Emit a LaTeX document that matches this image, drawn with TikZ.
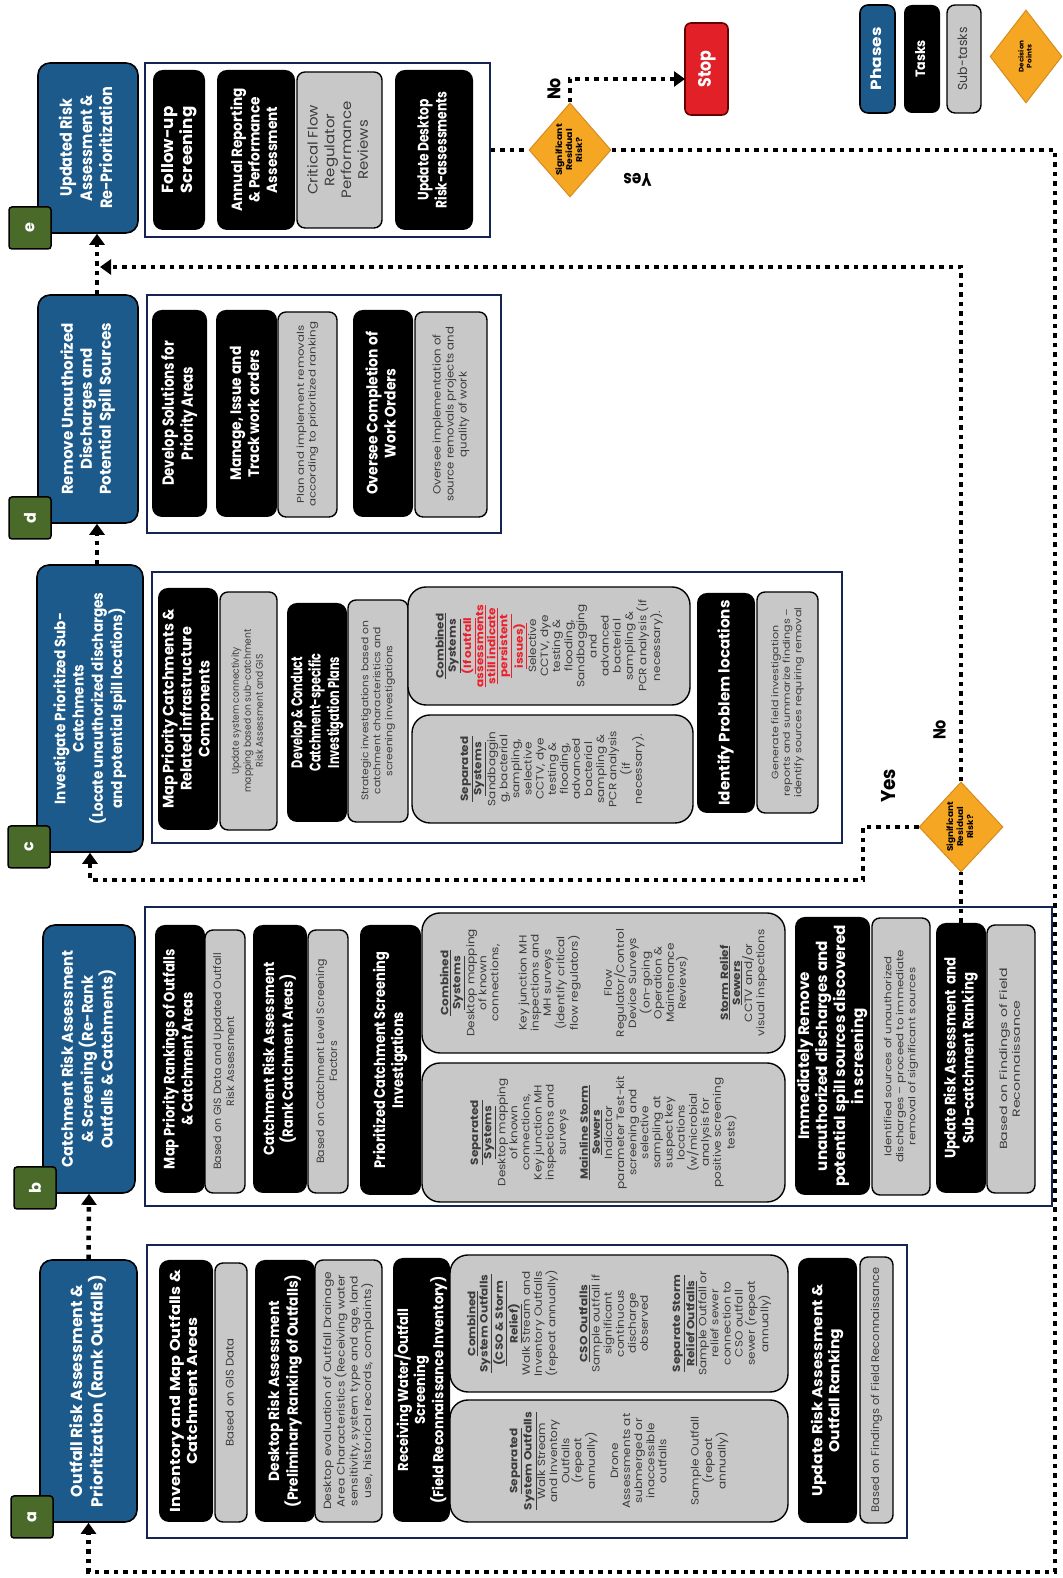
\documentclass[tikz,border=0pt]{standalone}
\usepackage{fontspec}
\setmainfont{Poppins}
\newfontfamily\widefont{Poppins}[FakeStretch=1.15]
\usetikzlibrary{shapes.geometric,arrows.meta,calc}
\definecolor{phaseblue}{RGB}{28,90,140}
\definecolor{panelnavy}{RGB}{22,36,84}
\definecolor{subgray}{RGB}{200,200,200}
\definecolor{subtext}{RGB}{60,60,60}
\definecolor{taggreen}{RGB}{74,106,42}
\definecolor{decfill}{RGB}{245,166,35}
\definecolor{decdraw}{RGB}{215,140,30}
\definecolor{stopred}{RGB}{226,32,40}
\definecolor{alertred}{RGB}{236,32,44}
\newcommand{\fphin}{\fontsize{10}{12.2}\selectfont\bfseries}
\newcommand{\ftkin}{\fontsize{10}{11.8}\selectfont\bfseries}
\newcommand{\fsbin}{\fontsize{10}{12.3}\selectfont}
\newcommand{\fbig}{\widefont\fontsize{10.5}{12.1}\selectfont}
\newcommand{\flbin}{\fontsize{10}{12}\selectfont\bfseries}
\newcommand{\ftag}{\fontsize{16}{18}\selectfont\bfseries}
\newcommand{\fitt}[3]{\resizebox*{#1pt}{#2pt}{\begin{tabular}{@{}c@{}}#3\end{tabular}}}
\newcommand{\ulb}[1]{\underline{\textbf{#1}}}
\newcommand{\redul}[1]{{\color{alertred}\underline{\textbf{#1}}}}
\begin{document}
\begin{tikzpicture}[x=1pt,y=1pt,
  sz/.style 2 args={minimum width=#1, minimum height=#2},
  phase/.style={draw=black, line width=1.6pt, fill=phaseblue, rounded corners=12pt, text=white, align=center, inner sep=0pt, font=\fphin},
  task/.style={fill=black, rounded corners=10pt, text=white, align=center, inner sep=0pt, font=\ftkin},
  sub/.style={draw=black, line width=1.4pt, fill=subgray, rounded corners=8pt, text=subtext, align=center, inner sep=0pt, font=\fsbin},
  bigsub/.style={sub, rounded corners=18pt, font=\fbig},
  panel/.style={draw=panelnavy, line width=1.8pt, fill=white, inner sep=0pt},
  tag/.style={draw=black, line width=1.5pt, fill=taggreen, rounded corners=3pt, minimum width=42pt, minimum height=42pt, text=white, font=\ftag, inner sep=0pt},
  decision/.style={diamond, draw=decdraw, line width=1pt, fill=decfill, align=center, inner sep=0pt, font=\flbin},
  stopbox/.style={draw=black!60!red, line width=1.6pt, fill=stopred, rounded corners=6pt, text=white, font=\fphin, inner sep=0pt},
  dotline/.style={line width=4.5pt, dash pattern=on 4.5pt off 5pt},
  arr/.style={-{Triangle[length=11pt,width=15pt]}},
  lbl/.style={font=\flbin, inner sep=0pt}
]
\useasboundingbox (0,0) rectangle (1062,1578);
\fill[white] (0,0) rectangle (1062,1578);
\begin{scope}[rotate=90, transform shape]
% ---------- panels ----------
\node[panel, sz={293}{760}] (Pa) at (186.5,-527) {};
\node[panel, sz={299}{907}] (Pb) at (521.5,-598.5) {};
\node[panel, sz={271}{690}] (Pc) at (870.5,-497) {};
\node[panel, sz={238}{354}] (Pd) at (1164,-324) {};
\node[panel, sz={174}{345}] (Pe) at (1428,-317.5) {};
% ---------- phases ----------
\node[phase, sz={262}{97}] (pa) at (187,-88.5) {\fitt{232}{40}{Outfall Risk Assessment \&\\Prioritization (Rank Outfalls)}};
\node[phase, sz={268}{92}] (pb) at (519,-89) {\fitt{217}{58.5}{Catchment Risk Assessment\\\& Screening (Re-Rank\\Outfalls \& Catchments)}};
\node[phase, sz={287}{106}] (pc) at (869.5,-90) {\fitt{232}{75}{Investigate Prioritized Sub-\\Catchments\\(Locate unauthorized discharges\\and potential spill locations)}};
\node[phase, sz={228}{100}] (pd) at (1169,-88) {\fitt{172}{57}{Remove Unauthorized\\Discharges and\\Potential Spill Sources}};
\node[phase, sz={170}{100}] (pe) at (1430,-88) {\fitt{122}{60}{Updated Risk\\Assessment \&\\Re-Prioritization}};
\node[tag] (ta) at (61,-32) {a};
\node[tag] (tb) at (390,-35) {b};
\node[tag] (tc) at (731,-29) {c};
\node[tag] (td) at (1060,-30) {d};
\node[tag] (te) at (1350,-30) {e};
% ---------- phase a ----------
\node[task, sz={262}{54}] (a1) at (187,-186) {\fitt{242}{34}{Inventory and Map Outfalls \&\\Catchment Areas}};
\node[sub, sz={259}{32}] (a2) at (185.5,-231) {\fitt{108}{13.5}{Based on GIS Data}};
\node[task, sz={262}{60}] (a3) at (187,-285) {\fitt{233}{36}{Desktop Risk Assessment\\(Preliminary Ranking of Outfalls)}};
\node[sub, sz={262}{67}] (a4) at (187,-348.5) {\fitt{238}{53}{Desktop evaluation of Outfall Drainage\\Area Characteristics (Receiving water\\sensitivity, system type and age, land\\use, historical records, complaints)}};
\node[task, sz={264}{57}] (a5) at (188,-421.5) {\fitt{227}{54}{Receiving Water/Outfall\\Screening\\(Field Reconnaissance Inventory)}};
\node[bigsub, sz={122}{338}] (a6) at (117,-619) {\ulb{Separated}\\\ulb{System Outfalls}\\Walk Stream\\and Inventory\\Outfalls\\(repeat\\annually)\\[11pt]Drone\\Assessments at\\submerged or\\inaccessible\\outfalls\\[20pt]Sample Outfall\\(repeat\\annually)};
\node[bigsub, sz={137}{338}] (a7) at (254.5,-619) {\ulb{Combined}\\\ulb{System Outfalls}\\\ulb{(CSO \& Storm}\\\ulb{Relief)}\\Walk Stream and\\Inventory Outfalls\\(repeat annually)\\[20pt]\ulb{CSO Outfalls}\\Sample outfall if\\significant\\continuous\\discharge\\observed\\[20pt]\ulb{Separate Storm}\\\ulb{Relief Outfalls}\\Sample Outfall or\\relief sewer\\connection to\\CSO outfall\\sewer (repeat\\annually)};
\node[task, sz={265}{59}] (a8) at (187.5,-827.5) {\fitt{212}{34}{Update Risk Assessment \&\\Outfall Ranking}};
\node[sub, sz={266}{33}] (a9) at (188,-876.5) {\fitt{245}{13.5}{Based on Findings of Field Reconnaissance}};
% ---------- phase b ----------
\node[task, sz={268}{50}] (b1) at (519,-180) {\fitt{220}{36}{Map Priority Rankings of Outfalls\\\& Catchment Areas}};
\node[sub, sz={263}{40}] (b2) at (516.5,-225) {\fitt{217}{26}{Based on GIS Data and Updated Outfall\\Risk Assessment}};
\node[task, sz={268}{54}] (b3) at (519,-280) {\fitt{193}{36}{Catchment Risk Assessment\\(Rank Catchment Areas)}};
\node[sub, sz={263}{40}] (b4) at (516.5,-328) {\fitt{205}{26}{Based on Catchment Level Screening\\Factors}};
\node[task, sz={270}{61}] (b5) at (518,-390.5) {\fitt{217}{36}{Prioritized Catchment Screening\\Investigations}};
\node[bigsub, sz={139}{363}] (b6) at (445.5,-603.5) {\ulb{Separated}\\\ulb{Systems}\\Desktop mapping\\of known\\connections,\\Key junction MH\\inspections and\\surveys\\[10pt]\ulb{Mainline Storm}\\\ulb{Sewers}\\Indicator\\parameter Test-kit\\screening and\\selective\\sampling at\\suspect key\\locations\\(w/microbial\\analysis for\\positive screening\\tests)};
\node[bigsub, sz={140}{363}] (b7) at (595,-603.5) {\ulb{Combined}\\\ulb{Systems}\\Desktop mapping\\of known\\connections,\\[16pt]Key junction MH\\inspections and\\MH surveys\\(identify critical\\flow regulators)\\[22pt]Flow\\Regulator/Control\\Device Surveys\\(on-going\\Operation \&\\Maintenance\\Reviews)\\[30pt]\ulb{Storm Relief}\\\ulb{Sewers}\\CCTV and/or\\visual inspections};
\node[task, sz={278}{75}] (b8) at (522,-832.5) {\fitt{262}{72}{Immediately Remove\\unauthorized discharges and\\potential spill sources discovered\\in screening}};
\node[sub, sz={277}{58}] (b9) at (521.5,-901) {\fitt{213}{36}{Identified sources of unauthorized\\discharges -- proceed to immediate\\removal of significant sources}};
\node[task, sz={270}{50}] (b10) at (520,-961) {\fitt{202}{36}{Update Risk Assessment \ and\\Sub-catchment Ranking}};
\node[sub, sz={268}{48}] (b11) at (519,-1011) {\fitt{182}{25.4}{Based on Findings of Field\\Reconnaissance}};
% ---------- phase c ----------
\node[task, sz={242}{60}] (c1) at (869,-188) {\fitt{200}{54}{Map Priority Catchments \&\\Related infrastructure\\Components}};
\node[sub, sz={238}{57}] (c2) at (867,-248.5) {\fitt{163}{36}{Update system connectivity\\mapping based on sub-catchment\\Risk Assessment and GIS}};
\node[task, sz={219}{60}] (c3) at (865.5,-317) {\fitt{118}{55}{Develop \& Conduct\\Catchment-specific\\Investigation Plans}};
\node[sub, sz={222}{60}] (c4) at (867,-378) {\fitt{180}{36}{Strategic investigations based on\\catchment characteristics and\\screening investigations}};
\node[bigsub, sz={108}{281}] (c5) at (809,-552.5) {\ulb{Separated}\\\ulb{Systems}\\Sandbaggin\\g, bacterial\\sampling,\\selective\\CCTV, dye\\testing \&\\flooding,\\advanced\\bacterial\\sampling \&\\PCR analysis\\(if\\necessary).};
\node[bigsub, sz={118}{282}] (c6) at (932,-549) {\ulb{Combined}\\\ulb{Systems}\\\redul{(If outfall}\\\redul{assessments}\\\redul{still indicate}\\\redul{persistent}\\\redul{issues)}\\Selective\\CCTV, dye\\testing \&\\flooding,\\Sandbagging\\and\\advanced\\bacterial\\sampling \&\\PCR analysis (if\\necessary).};
\node[task, sz={220}{58}] (c7) at (875,-726) {\fitt{205}{18}{Identify Problem locations}};
\node[sub, sz={221}{61}] (c8) at (875.5,-787.5) {\fitt{190}{34.5}{Generate field investigation\\reports and summarize findings --\\identify sources requiring removal}};
% ---------- phase d ----------
\node[task, sz={207}{55}] (d1) at (1164.5,-179.5) {\fitt{145}{38}{Develop Solutions for\\Priority Areas}};
\node[task, sz={207}{61}] (d2) at (1164.5,-246.5) {\fitt{134}{36}{Manage, Issue and\\Track work orders}};
\node[sub, sz={205}{59}] (d3) at (1163.5,-307.5) {\fitt{185}{23.4}{Plan and implement removals\\according to prioritized ranking}};
\node[task, sz={207}{60}] (d4) at (1164.5,-383) {\fitt{163}{36}{Oversee Completion of\\Work Orders}};
\node[sub, sz={205}{72}] (d5) at (1163.5,-451) {\fitt{175}{39}{Oversee implementation of\\source removals projects and\\quality of work}};
% ---------- phase e ----------
\node[task, sz={160}{52}] (e1) at (1428,-179) {\fitt{87}{38}{Follow-up\\Screening}};
\node[task, sz={160}{78}] (e2) at (1428,-256) {\fitt{123}{52.5}{Annual Reporting\\\& Performance\\Assessment}};
\node[sub, sz={156}{85}] (e3) at (1428,-339.5) {\fitt{97}{67}{Critical Flow\\Regulator\\Performance\\Reviews}};
\node[task, sz={160}{78}] (e4) at (1428,-434) {\fitt{117}{36}{Update Desktop\\Risk-assessments}};
% ---------- decisions, stop, legend ----------
\node[decision, sz={94}{80}] (D1) at (1428,-570) {\fitt{52}{30}{Significant\\Residual\\Risk?}};
\node[decision, sz={90}{84}] (D2) at (751,-961) {\fitt{50}{30}{Significant\\Residual\\Risk?}};
\node[stopbox, sz={92}{43}] (Stop) at (1509,-706.5) {\fitt{37}{22}{Stop}};
\node[phase, sz={108}{35}, rounded corners=8pt] (LPh) at (1519,-877.5) {\fitt{63}{18}{Phases}};
\node[task, sz={108}{36}, rounded corners=8pt] (LTa) at (1519,-922) {\fitt{38}{16}{Tasks}};
\node[sub, sz={108}{34}] (LSu) at (1519,-964) {\fitt{63}{16}{Sub-tasks}};
\node[decision, sz={93}{72}] (LDe) at (1521.5,-1026) {\fitt{32}{16}{Decision\\Points}};
% ---------- labels ----------
\node[lbl] (noA) at (1489,-556) {\fitt{22}{22}{No}};
\node[lbl, rotate=90] (yesA) at (1400.5,-637.5) {\fitt{28}{22}{Yes}};
\node[lbl] (yesB) at (792,-891) {\fitt{34}{24}{Yes}};
\node[lbl] (noB) at (848,-941.5) {\fitt{20}{21}{No}};
% ---------- corner coordinates ----------
\coordinate (C1) at (1428,-1055);
\coordinate (C2) at (6,-1055);
\coordinate (C3) at (6,-88.5);
\coordinate (C4) at (751,-863);
\coordinate (C5) at (698,-863);
\coordinate (C6) at (698,-90);
\coordinate (C7) at (1311,-961);
\coordinate (NoEnd) at (1311,-100);
\coordinate (C8) at (1499,-570);
\coordinate (StopIn) at (1499,-685);
% ---------- connectors ----------
\draw[dotline, arr] (pa.east) -- (pb.west);
\draw[dotline, arr] ($(pc.east)+(0,-7)$) -- ($(pd.west)+(0,-9)$);
\draw[dotline, arr] ($(pd.east)+(0,-9)$) -- ($(pe.west)+(0,-9)$);
\draw[dotline] (Pe.south) -- (D1.north);
\draw[dotline, arr] (D1.east) -- (C8) -- (StopIn);
\draw[dotline, arr] (D1.south) -- (C1) -- (C2) -- (C3) -- (pa.west);
\draw[dotline] (b10.east) -- (D2.west);
\draw[dotline, arr] (D2.north) -- (C4) -- (C5) -- (C6) -- (pc.west);
\draw[dotline, arr] (D2.east) -- (C7) -- (NoEnd);
\end{scope}
\end{tikzpicture}
\end{document}
